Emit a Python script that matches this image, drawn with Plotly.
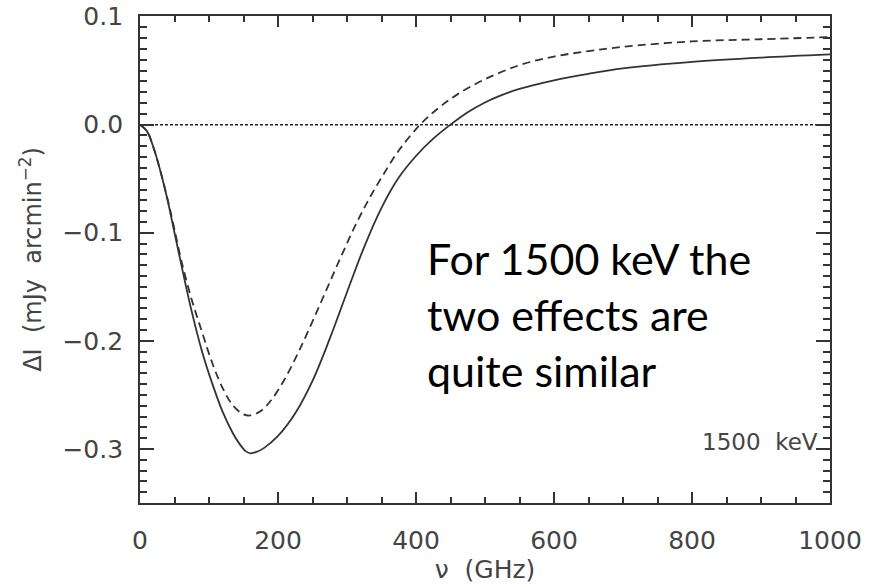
import plotly.graph_objects as go

# Frequency (GHz) and intensity change (mJy arcmin^-2), solid curve
nu_solid = [0, 10, 20, 30, 40, 50, 60, 75, 90, 105, 120, 135, 145, 153, 160,
            168, 180, 200, 225, 250, 275, 300, 325, 350, 375, 400, 425, 450, 475,
            500, 525, 550, 600, 650, 700, 800, 900, 1000]
dI_solid = [0.0, -0.006, -0.022, -0.044, -0.070, -0.100, -0.130, -0.173, -0.210,
            -0.240, -0.266, -0.286, -0.296, -0.302, -0.304, -0.303, -0.299, -0.288,
            -0.267, -0.237, -0.198, -0.155, -0.113, -0.077, -0.049, -0.029, -0.013,
            0.0, 0.0115, 0.0205, 0.0275, 0.033, 0.041, 0.047, 0.052, 0.058, 0.062,
            0.065]

# Dashed curve
nu_dashed = [0, 10, 20, 30, 40, 50, 60, 75, 90, 105, 120, 135, 150, 160, 175,
             190, 210, 230, 250, 270, 290, 310, 330, 350, 375, 406, 430, 460,
             500, 550, 600, 650, 700, 800, 900, 1000]
dI_dashed = [0.0, -0.006, -0.022, -0.044, -0.069, -0.097, -0.126, -0.162, -0.192,
             -0.221, -0.244, -0.260, -0.268, -0.269, -0.265, -0.255, -0.235, -0.210,
             -0.182, -0.153, -0.124, -0.096, -0.071, -0.049, -0.024, 0.0, 0.014,
             0.028, 0.042, 0.055, 0.063, 0.068, 0.072, 0.077, 0.079, 0.081]

x_ticks = [0, 200, 400, 600, 800, 1000]
y_ticks = [-0.3, -0.2, -0.1, 0.0, 0.1]
y_ticktext = ["\u22120.3", "\u22120.2", "\u22120.1", "0.0", "0.1"]

ink = "#333333"
axis_font = dict(family="DejaVu Sans", size=25, color="#444444")

fig = go.Figure()

# Zero reference line
fig.add_trace(go.Scatter(x=[0, 1000], y=[0, 0], mode="lines",
                         line=dict(color="#222222", width=1.5, dash="3px,2px"),
                         showlegend=False, hoverinfo="skip"))

fig.add_trace(go.Scatter(x=nu_dashed, y=dI_dashed, mode="lines",
                         line=dict(color=ink, width=1.8, dash="8px,5px", shape="spline"),
                         showlegend=False))

fig.add_trace(go.Scatter(x=nu_solid, y=dI_solid, mode="lines",
                         line=dict(color=ink, width=1.8, shape="spline"),
                         showlegend=False))

fig.update_xaxes(
    range=[0, 1000], tickvals=x_ticks, ticks="inside", ticklen=11, tickwidth=1.5,
    tickcolor=ink, showline=True, linecolor=ink, linewidth=1.8, mirror="ticks",
    showgrid=False, zeroline=False, tickfont=axis_font, ticklabelstandoff=14,
    automargin=False,
    minor=dict(dtick=50, ticks="inside", ticklen=6, tickwidth=1.5, tickcolor=ink,
               showgrid=False),
    title=dict(text="\u03bd\u00a0\u00a0(GHz)", font=axis_font, standoff=2),
)
fig.update_yaxes(
    range=[-0.35, 0.1005], tickvals=y_ticks, ticktext=y_ticktext, ticks="inside",
    ticklen=14, tickwidth=1.5, tickcolor=ink, showline=True, linecolor=ink,
    linewidth=1.8, mirror="ticks", showgrid=False, zeroline=False,
    tickfont=axis_font, ticklabelstandoff=10, automargin=False,
    minor=dict(dtick=0.01, ticks="inside", ticklen=7, tickwidth=1.5, tickcolor=ink,
               showgrid=False),
    title=dict(text="\u0394I\u00a0\u00a0(mJy\u00a0\u00a0arcmin<sup>\u22122</sup>)",
               font=dict(family="DejaVu Sans", size=24, color="#444444"), standoff=14),
)

fig.add_annotation(x=985, y=-0.294, text="1500\u00a0\u00a0keV", showarrow=False,
                   xanchor="right", yanchor="middle",
                   font=dict(family="DejaVu Sans", size=23, color="#444444"))

fig.add_annotation(x=413, y=-0.176, xanchor="left", yanchor="middle", align="left",
                   text="For 1500 keV the<br>two effects are<br>quite similar",
                   showarrow=False,
                   font=dict(family="Lato", size=43, color="black"))

fig.update_layout(
    width=869, height=587, paper_bgcolor="white", plot_bgcolor="white",
    margin=dict(l=140, r=39, t=16, b=84),
)

fig.write_html("out.html")
